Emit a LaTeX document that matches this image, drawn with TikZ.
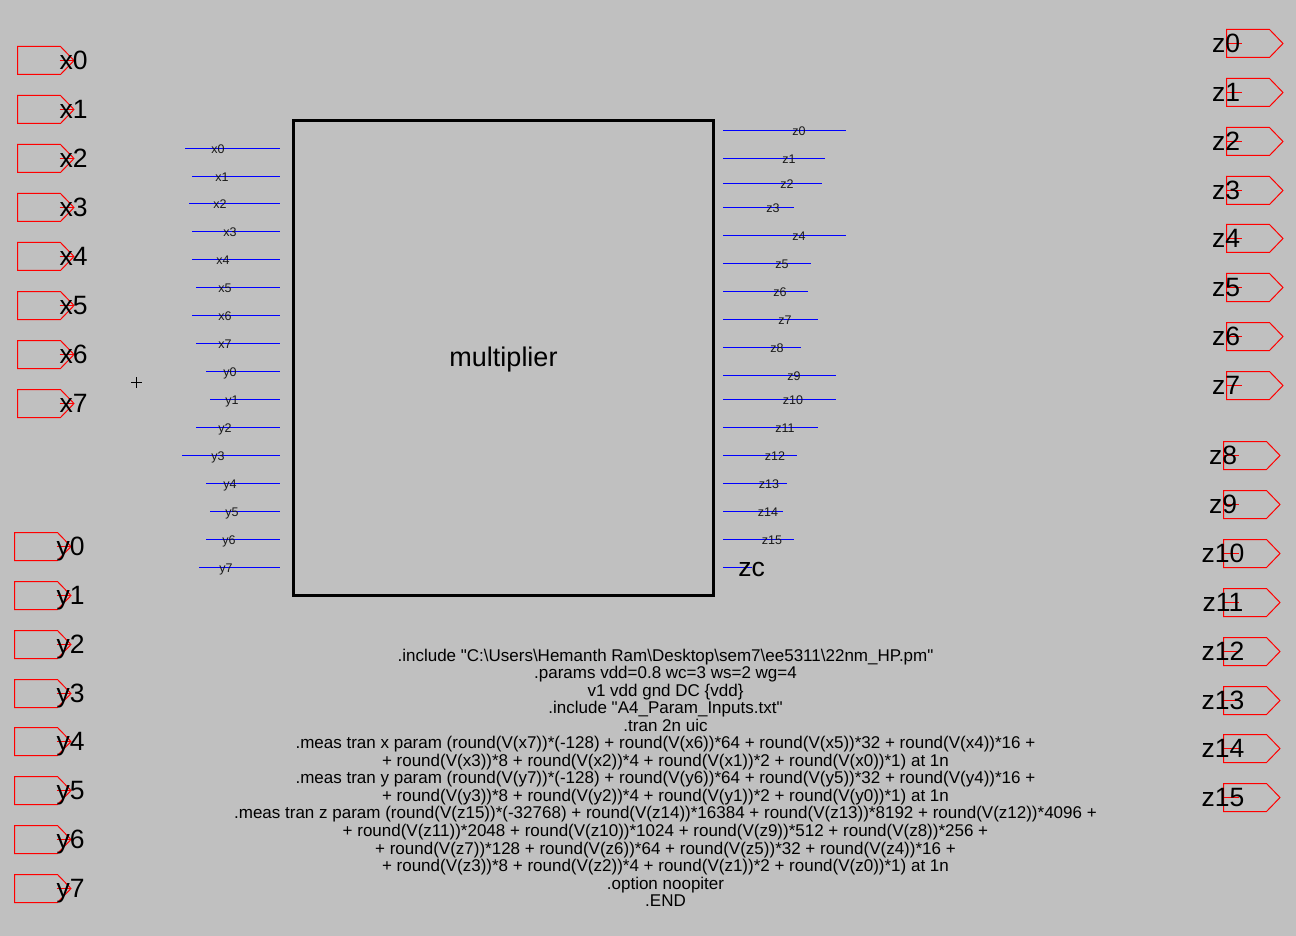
\documentclass[tikz,border=0pt]{standalone}
\usepackage{fontspec}
\setmainfont{Liberation Sans}[Ligatures=TeXOff]
\definecolor{bggray}{RGB}{192,192,192}

\tikzset{
    wire/.style={blue, line width=1pt},
    portline/.style={red, line width=1pt, line join=miter},
    pinname/.style={anchor=base, inner sep=0pt, text=black!90, font=\fontsize{12.5}{14}\selectfont},
    portname/.style={anchor=base, inner sep=0pt, font=\fontsize{26.5}{30}\selectfont},
    blockbox/.style={draw=black, line width=3pt, minimum width=420pt, minimum height=475pt, inner sep=0pt},
    inport/.pic={
        \draw[portline] (0,-14) -- (43,-14) -- (56.5,0) -- (43,14) -- (0,14) -- cycle;
        \draw[portline] (42,0) -- (56.5,0);
        \node[portname] (-name) at (56,9) {#1};
    },
    outport/.pic={
        \draw[portline] (0,-14) -- (43,-14) -- (56.5,0) -- (43,14) -- (0,14) -- cycle;
        \draw[portline] (0,0) -- (15,0);
        \node[portname] (-name) at (-0.5,9) {#1};
    }
}

\begin{document}
\begin{tikzpicture}[x=1pt, y=-1pt]
    \fill[bggray] (-0.5,-0.5) rectangle (1295.5,935.5);
    \useasboundingbox (-0.5,-0.5) rectangle (1295.5,935.5);

    % input ports
    \pic (px0) at (17,60) {inport=x0};
    \pic (px1) at (17,109) {inport=x1};
    \pic (px2) at (17,158) {inport=x2};
    \pic (px3) at (17,207) {inport=x3};
    \pic (px4) at (17,256) {inport=x4};
    \pic (px5) at (17,305) {inport=x5};
    \pic (px6) at (17,354) {inport=x6};
    \pic (px7) at (17,403) {inport=x7};
    \pic (py0) at (14,546) {inport=y0};
    \pic (py1) at (14,595) {inport=y1};
    \pic (py2) at (14,644) {inport=y2};
    \pic (py3) at (14,693) {inport=y3};
    \pic (py4) at (14,741) {inport=y4};
    \pic (py5) at (14,790) {inport=y5};
    \pic (py6) at (14,839) {inport=y6};
    \pic (py7) at (14,888) {inport=y7};

    % output ports
    \pic (pz0) at (1226,43) {outport=z0};
    \pic (pz1) at (1226,92) {outport=z1};
    \pic (pz2) at (1226,141) {outport=z2};
    \pic (pz3) at (1226,190) {outport=z3};
    \pic (pz4) at (1226,238) {outport=z4};
    \pic (pz5) at (1226,287) {outport=z5};
    \pic (pz6) at (1226,336) {outport=z6};
    \pic (pz7) at (1226,385) {outport=z7};
    \pic (pz8) at (1223,455) {outport=z8};
    \pic (pz9) at (1223,504) {outport=z9};
    \pic (pz10) at (1223,553) {outport=z10};
    \pic (pz11) at (1223,602) {outport=z11};
    \pic (pz12) at (1223,651) {outport=z12};
    \pic (pz13) at (1223,700) {outport=z13};
    \pic (pz14) at (1223,748) {outport=z14};
    \pic (pz15) at (1223,797) {outport=z15};

    % the block
    \node[blockbox] (mult) at (503,357.5) {};
    \node[portname, font=\fontsize{27}{30}\selectfont] (multname) at (503,366) {multiplier};
    \draw[line width=1pt] (130.5,382) -- (141.5,382) (136,376.5) -- (136,387.5);

    \begin{scope}[xshift=-0.5pt]
    % left pins
    \coordinate (ax0) at (185,148); \coordinate (bx0) at (280,148); \draw[wire] (ax0) -- (bx0); \node[pinname] (nx0) at (218,153) {x0};
    \coordinate (ax1) at (192,176); \coordinate (bx1) at (280,176); \draw[wire] (ax1) -- (bx1); \node[pinname] (nx1) at (222,181) {x1};
    \coordinate (ax2) at (189,203); \coordinate (bx2) at (280,203); \draw[wire] (ax2) -- (bx2); \node[pinname] (nx2) at (220,208) {x2};
    \coordinate (ax3) at (192,231); \coordinate (bx3) at (280,231); \draw[wire] (ax3) -- (bx3); \node[pinname] (nx3) at (230,236) {x3};
    \coordinate (ax4) at (192,259); \coordinate (bx4) at (280,259); \draw[wire] (ax4) -- (bx4); \node[pinname] (nx4) at (223,264) {x4};
    \coordinate (ax5) at (196,287); \coordinate (bx5) at (280,287); \draw[wire] (ax5) -- (bx5); \node[pinname] (nx5) at (225,292) {x5};
    \coordinate (ax6) at (192,315); \coordinate (bx6) at (280,315); \draw[wire] (ax6) -- (bx6); \node[pinname] (nx6) at (225,320) {x6};
    \coordinate (ax7) at (196,343); \coordinate (bx7) at (280,343); \draw[wire] (ax7) -- (bx7); \node[pinname] (nx7) at (225,348) {x7};
    \coordinate (ay0) at (206,371); \coordinate (by0) at (280,371); \draw[wire] (ay0) -- (by0); \node[pinname] (ny0) at (230,376) {y0};
    \coordinate (ay1) at (210,399); \coordinate (by1) at (280,399); \draw[wire] (ay1) -- (by1); \node[pinname] (ny1) at (232,404) {y1};
    \coordinate (ay2) at (196,427); \coordinate (by2) at (280,427); \draw[wire] (ay2) -- (by2); \node[pinname] (ny2) at (225,432) {y2};
    \coordinate (ay3) at (182,455); \coordinate (by3) at (280,455); \draw[wire] (ay3) -- (by3); \node[pinname] (ny3) at (218,460) {y3};
    \coordinate (ay4) at (206,483); \coordinate (by4) at (280,483); \draw[wire] (ay4) -- (by4); \node[pinname] (ny4) at (230,488) {y4};
    \coordinate (ay5) at (210,511); \coordinate (by5) at (280,511); \draw[wire] (ay5) -- (by5); \node[pinname] (ny5) at (232,516) {y5};
    \coordinate (ay6) at (206,539); \coordinate (by6) at (280,539); \draw[wire] (ay6) -- (by6); \node[pinname] (ny6) at (229,544) {y6};
    \coordinate (ay7) at (199,567); \coordinate (by7) at (280,567); \draw[wire] (ay7) -- (by7); \node[pinname] (ny7) at (226,572) {y7};

    % right pins
    \coordinate (az0) at (723,130); \coordinate (bz0) at (846,130); \draw[wire] (az0) -- (bz0); \node[pinname] (nz0) at (799,135) {z0};
    \coordinate (az1) at (723,158); \coordinate (bz1) at (825,158); \draw[wire] (az1) -- (bz1); \node[pinname] (nz1) at (789,163) {z1};
    \coordinate (az2) at (723,183); \coordinate (bz2) at (822,183); \draw[wire] (az2) -- (bz2); \node[pinname] (nz2) at (787,188) {z2};
    \coordinate (az3) at (723,207); \coordinate (bz3) at (794,207); \draw[wire] (az3) -- (bz3); \node[pinname] (nz3) at (773,212) {z3};
    \coordinate (az4) at (723,235); \coordinate (bz4) at (846,235); \draw[wire] (az4) -- (bz4); \node[pinname] (nz4) at (799,240) {z4};
    \coordinate (az5) at (723,263); \coordinate (bz5) at (811,263); \draw[wire] (az5) -- (bz5); \node[pinname] (nz5) at (782,268) {z5};
    \coordinate (az6) at (723,291); \coordinate (bz6) at (808,291); \draw[wire] (az6) -- (bz6); \node[pinname] (nz6) at (780,296) {z6};
    \coordinate (az7) at (723,319); \coordinate (bz7) at (818,319); \draw[wire] (az7) -- (bz7); \node[pinname] (nz7) at (785,324) {z7};
    \coordinate (az8) at (723,347); \coordinate (bz8) at (801,347); \draw[wire] (az8) -- (bz8); \node[pinname] (nz8) at (777,352) {z8};
    \coordinate (az9) at (723,375); \coordinate (bz9) at (836,375); \draw[wire] (az9) -- (bz9); \node[pinname] (nz9) at (794,380) {z9};
    \coordinate (az10) at (723,399); \coordinate (bz10) at (836,399); \draw[wire] (az10) -- (bz10); \node[pinname] (nz10) at (793,404) {z10};
    \coordinate (az11) at (723,427); \coordinate (bz11) at (818,427); \draw[wire] (az11) -- (bz11); \node[pinname] (nz11) at (785,432) {z11};
    \coordinate (az12) at (723,455); \coordinate (bz12) at (797,455); \draw[wire] (az12) -- (bz12); \node[pinname] (nz12) at (775,460) {z12};
    \coordinate (az13) at (723,483); \coordinate (bz13) at (787,483); \draw[wire] (az13) -- (bz13); \node[pinname] (nz13) at (769,488) {z13};
    \coordinate (az14) at (723,511); \coordinate (bz14) at (783,511); \draw[wire] (az14) -- (bz14); \node[pinname] (nz14) at (768,516) {z14};
    \coordinate (az15) at (723,539); \coordinate (bz15) at (794,539); \draw[wire] (az15) -- (bz15); \node[pinname] (nz15) at (772,544) {z15};
    \coordinate (azc) at (723,567); \coordinate (bzc) at (752,567); \draw[wire] (azc) -- (bzc); \node[portname] (nzc) at (751.5,576) {zc};
    \end{scope}

    % netlist
    \node[inner sep=0pt, anchor=north, align=center, font=\fontsize{17}{17.55}\selectfont] (netlist) at (665,648) {%
        .include "C:\textbackslash Users\textbackslash Hemanth Ram\textbackslash Desktop\textbackslash sem7\textbackslash ee5311\textbackslash 22nm\_HP.pm"\\
        .params vdd=0.8 wc=3 ws=2 wg=4\\
        v1 vdd gnd DC \{vdd\}\\
        .include "A4\_Param\_Inputs.txt"\\
        .tran 2n uic\\
        .meas tran x param (round(V(x7))*(-128) + round(V(x6))*64 + round(V(x5))*32 + round(V(x4))*16 +\\
        + round(V(x3))*8 + round(V(x2))*4 + round(V(x1))*2 + round(V(x0))*1) at 1n\\
        .meas tran y param (round(V(y7))*(-128) + round(V(y6))*64 + round(V(y5))*32 + round(V(y4))*16 +\\
        + round(V(y3))*8 + round(V(y2))*4 + round(V(y1))*2 + round(V(y0))*1) at 1n\\
        .meas tran z param (round(V(z15))*(-32768) + round(V(z14))*16384 + round(V(z13))*8192 + round(V(z12))*4096 +\\
        + round(V(z11))*2048 + round(V(z10))*1024 + round(V(z9))*512 + round(V(z8))*256 +\\
        + round(V(z7))*128 + round(V(z6))*64 + round(V(z5))*32 + round(V(z4))*16 +\\
        + round(V(z3))*8 + round(V(z2))*4 + round(V(z1))*2 + round(V(z0))*1) at 1n\\
        .option noopiter\\
        .END};
\end{tikzpicture}
\end{document}
